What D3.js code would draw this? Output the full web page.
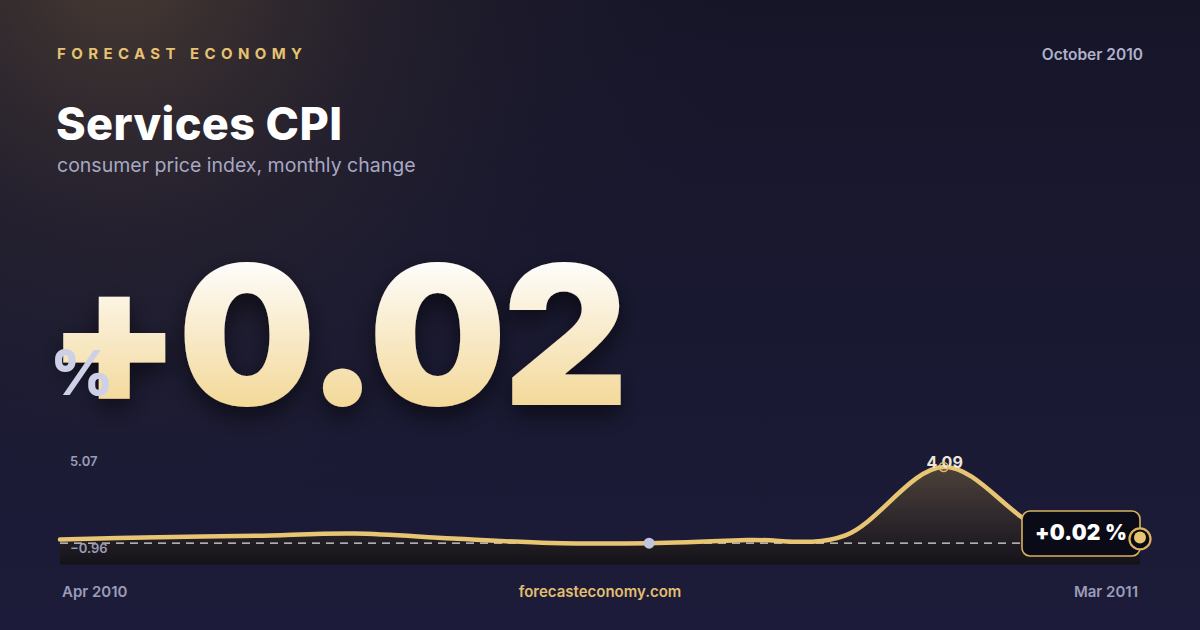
<!DOCTYPE html>
<html><head><meta charset="utf-8">
<script src="https://cdn.jsdelivr.net/npm/d3@7"></script>
<style>html,body{margin:0;padding:0;background:#16162b;} svg{display:block;font-family:Inter,"Noto Sans",sans-serif;}</style>
</head><body>
<svg id="c" width="1200" height="630"></svg>
<script>
// ---- data ----
const months = ["Apr 2010","May 2010","Jun 2010","Jul 2010","Aug 2010","Sep 2010","Oct 2010","Nov 2010","Dec 2010","Jan 2011","Feb 2011","Mar 2011"];
const values = [0.22, 0.34, 0.42, 0.54, 0.27, 0.03, 0.02, 0.19, 0.44, 4.09, 0.80, 0.33];
const currentMonthIndex = 6;
const currentMonthLabel = "October 2010";
const currentValueLabel = "+0.02";
const brandLabel = "FORECAST ECONOMY";
const titleLabel = "Services CPI";
const subtitleLabel = "consumer price index, monthly change";
const siteLabel = "forecasteconomy.com";
const xEndLabels = ["Apr 2010", "Mar 2011"];

// ---- setup ----
const svg = d3.select("#c");
const W = 1200, H = 630;
const defs = svg.append("defs");

const bg = defs.append("linearGradient").attr("id","bg").attr("x1",0).attr("y1",0).attr("x2",0).attr("y2",1);
bg.append("stop").attr("offset",0).attr("stop-color","#161528");
bg.append("stop").attr("offset",1).attr("stop-color","#1c1c3a");
const glow = defs.append("radialGradient").attr("id","glow").attr("gradientUnits","userSpaceOnUse")
  .attr("cx",120).attr("cy",-40).attr("r",620);
glow.append("stop").attr("offset",0).attr("stop-color","#5a4836").attr("stop-opacity",0.75);
glow.append("stop").attr("offset",0.45).attr("stop-color","#3a3030").attr("stop-opacity",0.35);
glow.append("stop").attr("offset",1).attr("stop-color","#1a1a30").attr("stop-opacity",0);

const numG = defs.append("linearGradient").attr("id","numG").attr("gradientUnits","userSpaceOnUse")
  .attr("x1",0).attr("y1",262).attr("x2",0).attr("y2",407);
numG.append("stop").attr("offset",0).attr("stop-color","#fefdfb");
numG.append("stop").attr("offset",1).attr("stop-color","#f3d898");

const shadow = defs.append("filter").attr("id","sh").attr("x","-20%").attr("y","-20%").attr("width","140%").attr("height","160%");
shadow.append("feDropShadow").attr("dx",0).attr("dy",10).attr("stdDeviation",12)
  .attr("flood-color","#000").attr("flood-opacity",0.55);

const areaG = defs.append("linearGradient").attr("id","areaG").attr("gradientUnits","userSpaceOnUse")
  .attr("x1",0).attr("y1",467).attr("x2",0).attr("y2",565);
areaG.append("stop").attr("offset",0).attr("stop-color","#4c4139");
areaG.append("stop").attr("offset",0.6).attr("stop-color","#2b252a");
areaG.append("stop").attr("offset",1).attr("stop-color","#141219");

svg.append("rect").attr("width",W).attr("height",H).attr("fill","url(#bg)");
svg.append("rect").attr("width",W).attr("height",H).attr("fill","url(#glow)");

function fitWidth(sel, target, gaps) {
  const w0 = sel.node().getComputedTextLength();
  sel.attr("letter-spacing", (target - w0) / gaps);
}

// ---- header ----
const brand = svg.append("text").attr("x",57).attr("y",59).text(brandLabel)
  .attr("fill","#e6c271").attr("font-size",15).attr("font-weight",700);
fitWidth(brand, 245, brandLabel.length - 1);
svg.append("text").attr("x",1143).attr("y",60).attr("text-anchor","end").text(currentMonthLabel)
  .attr("fill","#b0b2cb").attr("font-size",15.5).attr("font-weight",600);
const title = svg.append("text").attr("x",56).attr("y",140).text(titleLabel)
  .attr("fill","#ffffff").attr("font-size",45).attr("font-weight",800);
fitWidth(title, 286, titleLabel.length - 1);
svg.append("text").attr("x",57).attr("y",172).text(subtitleLabel)
  .attr("fill","#a7a8c3").attr("font-size",19.5).attr("font-weight",400);

// ---- big number ----
const big = svg.append("text").attr("x",47).attr("y",405).text(currentValueLabel)
  .attr("fill","url(#numG)").attr("font-size",194).attr("font-weight",900).attr("filter","url(#sh)");
fitWidth(big, 578, currentValueLabel.length);
svg.append("text").attr("x",50).attr("y",395).text("%")
  .attr("fill","#cdd0e6").attr("font-size",62).attr("font-weight",800);

// ---- chart ----
const x = d3.scalePoint().domain(months).range([60, 1140]);
const vmin = d3.min(values), vmax = d3.max(values);
const pad = (vmax - vmin) * 0.24;
const y = d3.scaleLinear().domain([vmin - pad, vmax + pad]).range([561.5, 448.7]);
const bottom = 564.5;
const curve = d3.curveCardinal.tension(0);

const area = d3.area().x((d,i)=>x(months[i])).y0(bottom).y1(d=>y(d)).curve(curve);
const line = d3.line().x((d,i)=>x(months[i])).y(d=>y(d)).curve(curve);

svg.append("path").datum(values).attr("d",area).attr("fill","url(#areaG)");
const cur = values[currentMonthIndex];
svg.append("line").attr("x1",x(months[0])).attr("x2",x(months[months.length-1]))
  .attr("y1",y(cur)).attr("y2",y(cur))
  .attr("stroke","#ffffff").attr("stroke-opacity",0.85).attr("stroke-width",1.3).attr("stroke-dasharray","8,6");
svg.append("path").datum(values).attr("d",line).attr("fill","none")
  .attr("stroke","#e8c573").attr("stroke-width",4.5).attr("stroke-linecap","round").attr("stroke-linejoin","round");

const fmt = d3.format(".2f");
svg.append("text").attr("x",70).attr("y",466).text(fmt(vmax + pad))
  .attr("fill","#9a9cb8").attr("font-size",13).attr("font-weight",600);
svg.append("text").attr("x",70).attr("y",553).text(fmt(vmin - pad))
  .attr("fill","#9a9cb8").attr("font-size",13).attr("font-weight",600);

// current month dot
svg.append("circle").attr("cx",x(months[currentMonthIndex])).attr("cy",y(cur)).attr("r",5.5).attr("fill","#c3c5de");

// peak marker
const pi = values.indexOf(vmax);
svg.append("text").attr("x",x(months[pi])+1).attr("y",y(vmax)+1).attr("text-anchor","middle").text(fmt(vmax))
  .attr("fill","#ece7da").attr("font-size",16).attr("font-weight",700);
svg.append("circle").attr("cx",x(months[pi])).attr("cy",y(vmax)).attr("r",4.5)
  .attr("fill","none").attr("stroke","#e0b862").attr("stroke-width",1.5);

// end badge
const li = values.length - 1;
const ex = x(months[li]), ey = y(values[li]);
svg.append("rect").attr("x",ex-118).attr("y",511).attr("width",118).attr("height",45).attr("rx",8)
  .attr("fill","#0b0b18").attr("stroke","#d7b25f").attr("stroke-width",1.6);
const badgeText = svg.append("text").attr("x",ex-105).attr("y",540).text(currentValueLabel + " %")
  .attr("fill","#ffffff").attr("font-size",21).attr("font-weight",900);
fitWidth(badgeText, 92, 6);
svg.append("circle").attr("cx",ex).attr("cy",ey+1.5).attr("r",10.5)
  .attr("fill","#0b0b18").attr("stroke","#dcb35c").attr("stroke-width",2.2);
svg.append("circle").attr("cx",ex).attr("cy",ey).attr("r",6).attr("fill","#e8c573");

// footer
svg.append("text").attr("x",62).attr("y",597).text(xEndLabels[0])
  .attr("fill","#9a9cb8").attr("font-size",15).attr("font-weight",600);
svg.append("text").attr("x",1138).attr("y",597).attr("text-anchor","end").text(xEndLabels[1])
  .attr("fill","#9a9cb8").attr("font-size",15).attr("font-weight",600);
svg.append("text").attr("x",600).attr("y",597).attr("text-anchor","middle").text(siteLabel)
  .attr("fill","#e2be6e").attr("font-size",15).attr("font-weight",600);
</script>
</body></html>
